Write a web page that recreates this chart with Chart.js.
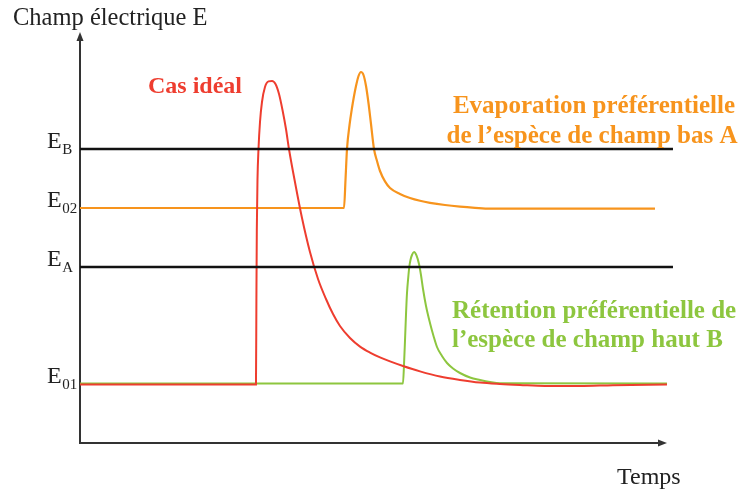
<!DOCTYPE html>
<html>
<head>
<meta charset="utf-8">
<script src="https://cdn.jsdelivr.net/npm/chart.js@4/dist/chart.umd.min.js"></script>
<style>
  html, body { margin: 0; padding: 0; background: #ffffff; }
  #wrap { width: 742px; height: 490px; }
</style>
</head>
<body>
<div id="wrap"><canvas id="c" width="742" height="490"></canvas></div>
<script>
// Field levels (arbitrary units of E)
const levelNames  = ['B', '02', 'A', '01'];
const levelValues = [7.35, 5.875, 4.4, 1.475];

// Ideal case: field jumps at once, then relaxes back to E01
const redTime  = [0, 29.33, 29.4, 29.47, 29.58, 29.75, 30.0, 30.33, 30.83, 31.42, 32.0, 32.58, 33.17, 33.75, 34.33, 34.83,
                  35.92, 37.0, 38.33, 39.67, 41.0, 42.17, 43.33, 45.0, 46.67, 48.33, 50.0, 51.67, 53.83, 56.67, 60.0,
                  63.33, 66.67, 70.0, 73.33, 77.5, 83.33, 88.83, 97.83];
const redField = [1.46, 1.46, 3.575, 5.325, 6.575, 7.35, 8.025, 8.525, 8.9, 9.04, 9.05, 8.975, 8.725, 8.325, 7.85, 7.35,
                  6.45, 5.625, 4.775, 4.1, 3.6, 3.225, 2.925, 2.625, 2.41, 2.26, 2.14, 2.04, 1.925, 1.79, 1.66,
                  1.575, 1.51, 1.475, 1.45, 1.425, 1.425, 1.445, 1.46];

// Preferential evaporation of the low-field species A
const orangeTime  = [0, 44.0, 44.25, 44.5, 44.92, 45.33, 45.67, 46.0, 46.42, 46.83, 47.25, 47.67, 48.08, 48.5, 49.0,
                     49.5, 50.0, 50.83, 51.67, 53.33, 55.0, 56.67, 58.33, 60.83, 63.33, 65.83, 68.33, 95.83];
const orangeField = [5.875, 5.875, 6.575, 7.35, 7.95, 8.375, 8.675, 8.925, 9.175, 9.275, 9.2, 8.925, 8.5, 7.975, 7.35,
                     7.05, 6.8, 6.54, 6.375, 6.225, 6.125, 6.055, 6.005, 5.95, 5.91, 5.88, 5.858, 5.858];

// Preferential retention of the high-field species B
const greenTime  = [0, 53.83, 54.0, 54.17, 54.33, 54.5, 54.7, 54.88, 55.08, 55.33, 55.67, 56.08, 56.5, 56.83, 57.17,
                    57.67, 58.33, 58.92, 59.5, 60.33, 61.17, 62.17, 63.33, 65.0, 66.67, 68.33, 70.0, 97.83];
const greenField = [1.49, 1.49, 1.95, 2.575, 3.2, 3.75, 4.125, 4.4, 4.575, 4.7, 4.775, 4.69, 4.475, 4.2, 3.85,
                    3.425, 3.0, 2.675, 2.4, 2.175, 2.0, 1.8625, 1.75, 1.6375, 1.575, 1.525, 1.495, 1.49];

// Reference levels E_B and E_A span the whole time range
const refTime = [0, 98.83];

// Axis extents (arrow tips)
const xAxisEnd = 97.83;
const yAxisEnd = 10.275;

const zip = (xs, ys) => xs.map((x, i) => ({ x: x, y: ys[i] }));

const RED = '#ee3d2f';
const ORANGE = '#f7941d';
const GREEN = '#8dc63f';

const serif = "'Liberation Serif', 'Times New Roman', serif";

const axesPlugin = {
  id: 'arrowAxes',
  beforeDatasetsDraw(chart) {
    const { ctx, scales: { x, y } } = chart;
    const x0 = x.getPixelForValue(0);
    const y0 = y.getPixelForValue(0);
    const xe = x.getPixelForValue(xAxisEnd);
    const ye = y.getPixelForValue(yAxisEnd);
    ctx.save();
    ctx.strokeStyle = '#333333';
    ctx.fillStyle = '#333333';
    ctx.lineWidth = 2;
    ctx.beginPath();
    ctx.moveTo(x0, ye + 6);
    ctx.lineTo(x0, y0);
    ctx.lineTo(xe - 6, y0);
    ctx.stroke();
    // arrow heads
    ctx.beginPath();
    ctx.moveTo(x0, ye);
    ctx.lineTo(x0 - 3.5, ye + 9);
    ctx.lineTo(x0 + 3.5, ye + 9);
    ctx.closePath();
    ctx.fill();
    ctx.beginPath();
    ctx.moveTo(xe, y0);
    ctx.lineTo(xe - 9, y0 - 3.5);
    ctx.lineTo(xe - 9, y0 + 3.5);
    ctx.closePath();
    ctx.fill();
    ctx.restore();
  }
};

const textPlugin = {
  id: 'labels',
  afterDraw(chart) {
    const { ctx, scales: { y } } = chart;
    ctx.save();
    ctx.textBaseline = 'alphabetic';
    ctx.fillStyle = '#222222';

    // axis titles
    ctx.textAlign = 'left';
    ctx.font = '24.5px ' + serif;
    ctx.fillText('Champ électrique E', 13, 25);
    ctx.font = '24px ' + serif;
    ctx.fillText('Temps', 617, 484);

    // level labels with subscripts
    levelValues.forEach((v, i) => {
      const py = y.getPixelForValue(v);
      ctx.font = '24px ' + serif;
      ctx.fillText('E', 47, py - 1);
      const w = ctx.measureText('E').width;
      ctx.font = '15px ' + serif;
      ctx.fillText(levelNames[i], 47 + w + 0.5, py + 5);
    });

    // annotations
    ctx.font = 'bold 24px ' + serif;
    ctx.fillStyle = RED;
    ctx.fillText('Cas idéal', 148, 93);

    ctx.font = 'bold 25px ' + serif;
    ctx.fillStyle = ORANGE;
    ctx.textAlign = 'center';
    ctx.fillText('Evaporation préférentielle', 594, 113);
    ctx.fillText('de l\u2019espèce de champ bas A', 592, 143);

    ctx.fillStyle = GREEN;
    ctx.textAlign = 'left';
    ctx.fillText('Rétention préférentielle de', 452, 318);
    ctx.fillText('l\u2019espèce de champ haut B', 452, 347);
    ctx.restore();
  }
};

const lineDefaults = {
  pointRadius: 0,
  fill: false,
  cubicInterpolationMode: 'monotone',
  clip: false
};

new Chart(document.getElementById('c'), {
  type: 'line',
  data: {
    datasets: [
      Object.assign({ label: 'E_B', data: zip(refTime, [levelValues[0], levelValues[0]]), borderColor: '#111111', borderWidth: 2.5 }, lineDefaults),
      Object.assign({ label: 'E_A', data: zip(refTime, [levelValues[2], levelValues[2]]), borderColor: '#111111', borderWidth: 2.5 }, lineDefaults),
      Object.assign({ label: 'Cas idéal', data: zip(redTime, redField), borderColor: RED, borderWidth: 2 }, lineDefaults),
      Object.assign({ label: 'Evaporation', data: zip(orangeTime, orangeField), borderColor: ORANGE, borderWidth: 2.2 }, lineDefaults),
      Object.assign({ label: 'Rétention', data: zip(greenTime, greenField), borderColor: GREEN, borderWidth: 2 }, lineDefaults)
    ]
  },
  options: {
    responsive: false,
    animation: false,
    layout: { padding: { left: 80, right: 62, top: 43, bottom: 47 } },
    plugins: { legend: { display: false }, tooltip: { enabled: false } },
    scales: {
      x: { type: 'linear', min: 0, max: 100, display: false },
      y: { type: 'linear', min: 0, max: 10, display: false }
    }
  },
  plugins: [axesPlugin, textPlugin]
});
</script>
</body>
</html>
